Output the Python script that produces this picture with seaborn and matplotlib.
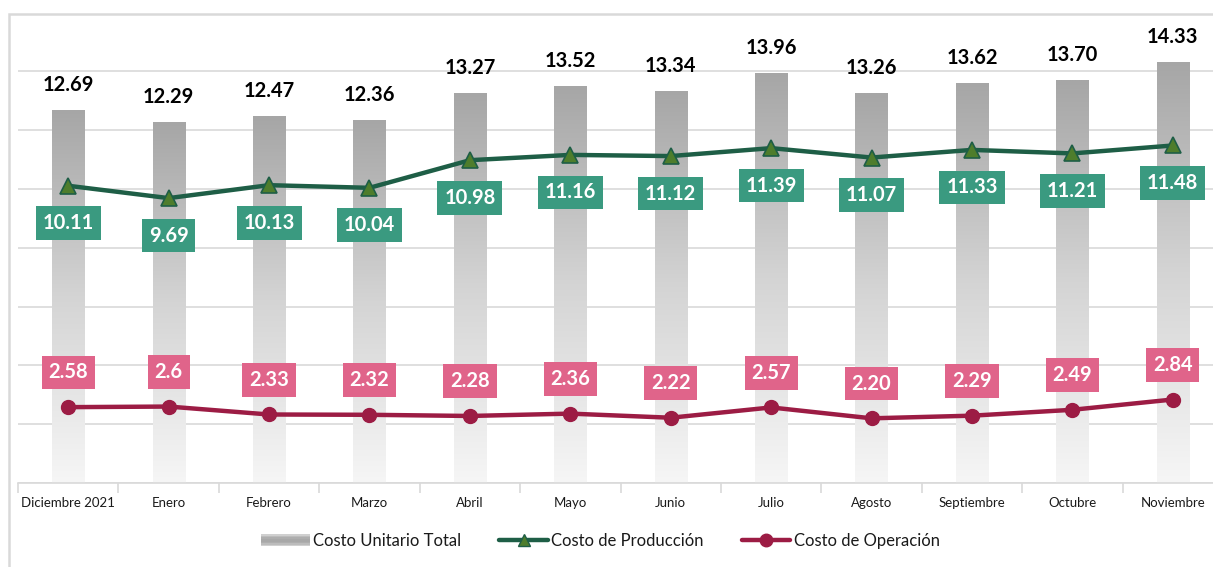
import numpy as np
import pandas as pd
import matplotlib
matplotlib.use("Agg")
import matplotlib.pyplot as plt
import seaborn as sns
from matplotlib.colors import LinearSegmentedColormap
from matplotlib.lines import Line2D
from matplotlib.patches import Rectangle
from matplotlib.legend_handler import HandlerBase

meses = ["Diciembre 2021", "Enero", "Febrero", "Marzo", "Abril", "Mayo", "Junio",
         "Julio", "Agosto", "Septiembre", "Octubre", "Noviembre"]
costo_total = [12.69, 12.29, 12.47, 12.36, 13.27, 13.52, 13.34, 13.96, 13.26, 13.62, 13.70, 14.33]
costo_total_lbl = ["12.69", "12.29", "12.47", "12.36", "13.27", "13.52", "13.34", "13.96",
                   "13.26", "13.62", "13.70", "14.33"]
costo_prod = [10.11, 9.69, 10.13, 10.04, 10.98, 11.16, 11.12, 11.39, 11.07, 11.33, 11.21, 11.48]
costo_prod_lbl = ["10.11", "9.69", "10.13", "10.04", "10.98", "11.16", "11.12", "11.39",
                  "11.07", "11.33", "11.21", "11.48"]
costo_oper = [2.58, 2.6, 2.33, 2.32, 2.28, 2.36, 2.22, 2.57, 2.20, 2.29, 2.49, 2.84]
costo_oper_lbl = ["2.58", "2.6", "2.33", "2.32", "2.28", "2.36", "2.22", "2.57", "2.20",
                  "2.29", "2.49", "2.84"]

sns.set_theme(style="white")
plt.rcParams["font.family"] = ["Lato", "DejaVu Sans"]

W, H = 1213, 567
fig = plt.figure(figsize=(W / 100, H / 100), dpi=100)
ax = fig.add_axes([18 / W, (H - 483) / H, (1223 - 18) / W, (483 - 12.6) / H])

df = pd.DataFrame({"mes": meses, "total": costo_total, "prod": costo_prod, "oper": costo_oper})
df["pos"] = np.arange(len(df))

sns.barplot(data=df, x="mes", y="total", ax=ax, width=0.32, color="#a6a6a6",
            saturation=1, zorder=2)

cmap = LinearSegmentedColormap.from_list("g", ["#f6f6f6", "#d4d4d4", "#a6a6a6"])
grad = np.linspace(0, 1, 256).reshape(-1, 1)
for p in list(ax.patches):
    x0, y0 = p.get_x(), p.get_y()
    w, h = p.get_width(), p.get_height()
    p.set_facecolor("none")
    p.set_edgecolor("none")
    im = ax.imshow(grad, extent=[x0, x0 + w, 0, h], origin="lower", aspect="auto",
                   cmap=cmap, zorder=2)
    im.set_clip_path(p)

green_line = "#1e5e46"
green_marker = "#4e7d2c"
green_box = "#3a9a80"
red_line = "#9c1c44"
pink_box = "#e0648a"

sns.lineplot(data=df, x="pos", y="prod", ax=ax, color=green_line, linewidth=3.2,
             marker="^", markersize=12, markerfacecolor=green_marker,
             markeredgecolor=green_line, markeredgewidth=1.2, errorbar=None,
             legend=False, zorder=4)
sns.lineplot(data=df, x="pos", y="oper", ax=ax, color=red_line, linewidth=3.2,
             marker="o", markersize=10, markerfacecolor=red_line,
             markeredgecolor=red_line, markeredgewidth=1, errorbar=None,
             legend=False, zorder=4)

for i in range(len(meses)):
    ax.annotate(costo_total_lbl[i], (i, costo_total[i]), xytext=(0, 18),
                textcoords="offset points", ha="center", va="center",
                fontsize=14.5, fontweight="bold", color="black", zorder=5)
    ax.annotate(costo_prod_lbl[i], (i, costo_prod[i]), xytext=(0, -27),
                textcoords="offset points", ha="center", va="center",
                fontsize=14.5, fontweight="bold", color="white", zorder=6,
                bbox=dict(boxstyle="square,pad=0.34", fc=green_box, ec="none"))
    ax.annotate(costo_oper_lbl[i], (i, costo_oper[i]), xytext=(0, 25),
                textcoords="offset points", ha="center", va="center",
                fontsize=14.5, fontweight="bold", color="white", zorder=6,
                bbox=dict(boxstyle="square,pad=0.34", fc=pink_box, ec="none"))

ax.set_xlim(-0.5, len(meses) - 0.5)
ax.set_ylim(0, 16)
ax.set_yticks(np.arange(0, 15, 2))
ax.set_yticklabels([])
ax.yaxis.grid(True, color="#d9d9d9", linewidth=1.2, zorder=0)
ax.set_axisbelow(True)
ax.tick_params(axis="y", length=0)
ax.set_xticks(np.arange(len(meses)))
ax.set_xticklabels(meses, fontsize=9.5, color="#1a1a1a")
ax.set_xticks(np.arange(-0.5, len(meses), 1), minor=True)
ax.tick_params(axis="x", which="major", length=0, pad=10)
ax.tick_params(axis="x", which="minor", length=7, color="#d9d9d9", width=1.2, bottom=True)
ax.set_xlabel("")
ax.set_ylabel("")
for s in ["top", "right", "left"]:
    ax.spines[s].set_visible(False)
ax.spines["bottom"].set_color("#d9d9d9")
ax.spines["bottom"].set_linewidth(1.2)

# chart frame
fig.patches.append(Rectangle((8.5 / W, -0.05), 1.2, (H - 14) / H + 0.05,
                             transform=fig.transFigure, fill=False,
                             ec="#d9d9d9", lw=1.8, zorder=10))


class GradHandler(HandlerBase):
    def create_artists(self, legend, orig, xd, yd, width, height, fontsize, trans):
        arts = []
        n = 8
        shades = ["#d0d0d0", "#bcbcbc", "#aeaeae", "#a8a8a8", "#a8a8a8", "#aeaeae",
                  "#bcbcbc", "#d0d0d0"]
        hh = height / n
        for k in range(n):
            r = Rectangle((-xd, -yd + k * hh), width, hh * 1.05,
                          fc=shades[k], ec="none", transform=trans)
            arts.append(r)
        return arts


h_total = Rectangle((0, 0), 1, 1)
h_prod = Line2D([], [], color=green_line, lw=3.2, marker="^", markersize=9,
                markerfacecolor=green_marker, markeredgecolor=green_line)
h_oper = Line2D([], [], color=red_line, lw=3.2, marker="o", markersize=9,
                markerfacecolor=red_line, markeredgecolor=red_line)
fig.legend([h_total, h_prod, h_oper],
           ["Costo Unitario Total", "Costo de Producción", "Costo de Operación"],
           handler_map={Rectangle: GradHandler()},
           loc="center", bbox_to_anchor=(0.495, (H - 541) / H), ncol=3, frameon=False,
           fontsize=12, handlelength=2.9, handletextpad=0.2, columnspacing=2.3,
           labelcolor="#1a1a1a")

fig.savefig("out.png", dpi=100)
